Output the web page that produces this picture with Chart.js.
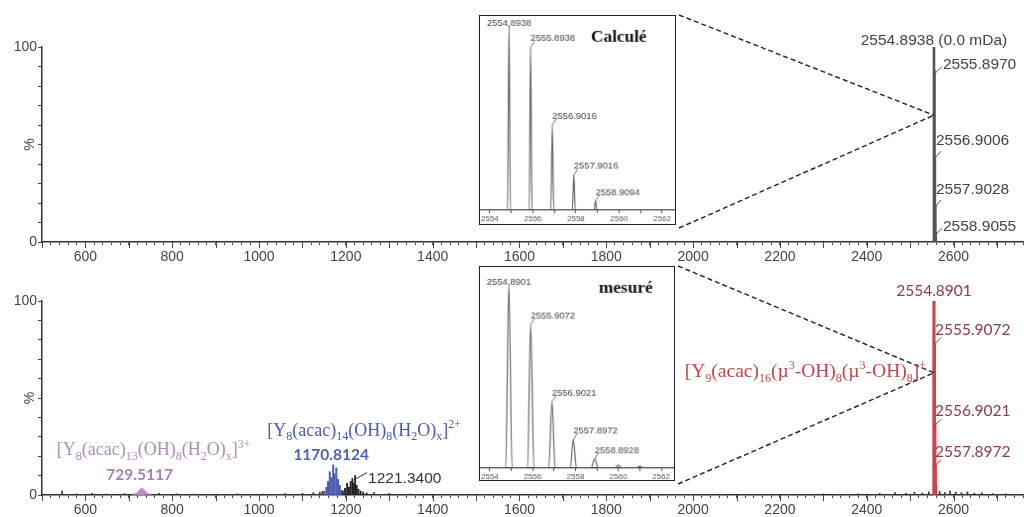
<!DOCTYPE html>
<html>
<head>
<meta charset="utf-8">
<script src="https://cdn.jsdelivr.net/npm/chart.js@4.4.1/dist/chart.umd.min.js"></script>
<style>
body { margin: 0; background: #fff; width: 1027px; height: 517px; overflow: hidden; position: relative; }
canvas { position: absolute; }
.inset { background: #fff; border: 1.5px solid #222; }
</style>
</head>
<body>
<canvas id="topChart" width="1027" height="268" style="left:0;top:0"></canvas>
<canvas id="botChart" width="1027" height="255" style="left:0;top:262px"></canvas>
<canvas id="topInset" class="inset" width="197" height="210" style="left:479px;top:15px"></canvas>
<canvas id="botInset" class="inset" width="196" height="215" style="left:479px;top:266px"></canvas>
<script>
// main axis range (m/z) and tick steps
const xMin = 500, xMax = 2760;
const xTickStep = 20;
const yTickStep = 10;

// top: calculated isotope pattern
const calcMz = [2554.8938, 2555.8970, 2556.9006, 2557.9028, 2558.9055];
const calcInt = [100, 88, 44, 19, 5];
const calcLabels = ['2554.8938 (0.0 mDa)', '2555.8970', '2556.9006', '2557.9028', '2558.9055'];

// bottom: measured spectrum
const measMz = [2554.8901, 2555.9072, 2556.9021, 2557.8972, 2558.8928];
const measInt = [100, 78, 36, 15, 5];
const measLabels = ['2554.8901', '2555.9072', '2556.9021', '2557.8972'];

// [Y8(acac)13(OH)8(H2O)x]3+ cluster
const c3Mz = [712, 716, 720, 724, 727, 729.5117, 732, 735, 739, 743, 748];
const c3Int = [0.5, 1, 1.6, 2.3, 3, 3.6, 3.2, 2.5, 1.7, 1, 0.5];
// [Y8(acac)14(OH)8(H2O)x]2+ cluster
const c2Mz = [1150, 1155, 1159, 1163, 1167, 1170.8124, 1174, 1178, 1182, 1186, 1190];
const c2Int = [2, 4, 7, 12, 9, 15.5, 11, 14, 8, 5, 2.5];
// unassigned cluster near 1221
const otherMz = [1193, 1198, 1203, 1207, 1211, 1215, 1218, 1221.34, 1225, 1229, 1234, 1240, 1248];
const otherInt = [2, 3.5, 6, 4, 7, 8.5, 6, 10, 5, 3, 2, 1.5, 1];
// baseline noise
const noiseMz = [546, 580, 615, 650, 690, 770, 810, 850, 905, 950, 1010, 1060, 1100, 1125, 1140, 1146, 1265, 1300, 1350, 1410, 1480, 1560, 1650, 1760, 1900, 2050, 2180, 2300, 2380, 2430, 2465, 2490, 2510, 2528, 2543, 2568, 2580, 2592, 2605, 2618, 2632, 2648, 2665, 2690, 2720];
const noiseInt = [2.0, 0.6, 0.8, 0.5, 0.7, 0.9, 0.6, 0.5, 0.4, 0.6, 0.5, 0.7, 0.9, 1.2, 1.5, 1.8, 1.2, 0.8, 0.5, 0.4, 0.4, 0.3, 0.3, 0.4, 0.3, 0.3, 0.4, 0.5, 0.6, 0.8, 1.2, 0.9, 1.4, 1.0, 1.6, 1.8, 1.3, 2.0, 1.5, 1.2, 1.6, 0.9, 1.1, 0.7, 0.6];

// insets (zoom on isotope pattern)
const insetMin = 2553.55, insetMax = 2562.6;
const insetTicks = [2554, 2555, 2556, 2557, 2558, 2559, 2560, 2561, 2562];
const calcProfMz = [2553.55, 2554.82, 2554.8938, 2554.96, 2555.83, 2555.8938, 2555.96, 2556.83, 2556.9016, 2556.97, 2557.83, 2557.9016, 2557.97, 2558.84, 2558.9094, 2558.98, 2562.6];
const calcProfInt = [0, 0, 100, 0, 0, 88, 0, 0, 46, 0, 0, 19, 0, 0, 5, 0, 0];
const calcInsetLabels = ['2554.8938', '2555.8938', '2556.9016', '2557.9016', '2558.9094'];
const measProfMz = [2553.55, 2554.74, 2554.8901, 2555.04, 2555.76, 2555.9072, 2556.06, 2556.75, 2556.9021, 2557.05, 2557.75, 2557.8972, 2558.05, 2558.72, 2558.8928, 2559.07, 2559.8, 2560.0, 2560.2, 2560.8, 2561.0, 2561.2, 2562.6];
const measProfInt = [0, 0, 100, 0, 0, 78, 0, 0, 36, 0, 0, 15.5, 0, 0, 5, 0, 0, 1.5, 0, 0, 1, 0, 0];
const measInsetLabels = ['2554.8901', '2555.9072', '2556.9021', '2557.8972', '2558.8928'];

// layout bits (page coords of inset boxes, apex height of zoom lines in %)
const topBox = { right: 679, top: 15, bottom: 228 };
const botBox = { right: 678, top: 266, bottom: 484 };
const topCanvasY = 0, botCanvasY = 262;
const apexTop = 65, apexBot = 63;

const SANS = '"Liberation Sans", Arial, sans-serif';
const SERIF = '"Liberation Serif", "Times New Roman", serif';
const ROUND = 'Lato, "Open Sans", sans-serif';

function pts(xs, ys) {
    return xs.map((m, i) => ({ x: m, y: ys[i] }));
}

function line(ctx, x1, y1, x2, y2) {
    ctx.beginPath();
    ctx.moveTo(x1, y1);
    ctx.lineTo(x2, y2);
    ctx.stroke();
}

// text with sub (1) / superscript (2) parts
function drawRich(ctx, parts, x, y, size, family, color, align) {
    const small = Math.round(size * 0.64);
    const seg = parts.map(([t, m]) => ({ t: t, m: m, f: (m ? small : size) + 'px ' + family }));
    let w = 0;
    seg.forEach(s => { ctx.font = s.f; s.w = ctx.measureText(s.t).width; w += s.w; });
    let cx = align === 'center' ? x - w / 2 : (align === 'right' ? x - w : x);
    ctx.fillStyle = color;
    ctx.textAlign = 'left';
    ctx.textBaseline = 'alphabetic';
    seg.forEach(s => {
        ctx.font = s.f;
        const dy = s.m === 1 ? size * 0.25 : (s.m === 2 ? -size * 0.42 : 0);
        ctx.fillText(s.t, cx, y + dy);
        cx += s.w;
    });
}

function axisExtras(chart) {
    const { ctx, scales: { x, y }, chartArea } = chart;
    ctx.save();
    ctx.strokeStyle = '#444';
    ctx.lineWidth = 1;
    for (let v = xMin; v <= xMax; v += 100) {
        const px = Math.round(x.getPixelForValue(v)) + 0.5;
        line(ctx, px, chartArea.bottom, px, chartArea.bottom + 6);
    }
    ctx.font = '14px ' + SANS;
    ctx.fillStyle = '#444';
    ctx.translate(30, y.getPixelForValue(50));
    ctx.rotate(-Math.PI / 2);
    ctx.textAlign = 'center';
    ctx.textBaseline = 'middle';
    ctx.fillText('%', 0, 0);
    ctx.restore();
}

function zoomLines(ctx, box, offY, ax, ay) {
    ctx.save();
    ctx.setLineDash([5, 3]);
    ctx.strokeStyle = '#222';
    ctx.lineWidth = 1.4;
    line(ctx, box.right, box.top - offY, ax, ay);
    line(ctx, box.right, box.bottom - offY, ax, ay);
    ctx.restore();
}

// label offsets: 'side' = text right of the line, 'over' = text above the leader
const topLabelStyle = ['', 'side', 'over', 'over', 'side'];

const topDeco = {
    id: 'topDeco',
    afterDraw(chart) {
        const { ctx, scales: { x, y } } = chart;
        axisExtras(chart);
        const xp = x.getPixelForValue(calcMz[0]);
        zoomLines(ctx, topBox, topCanvasY, xp, y.getPixelForValue(apexTop));
        ctx.save();
        ctx.font = '15.5px ' + SANS;
        ctx.fillStyle = '#444';
        ctx.strokeStyle = '#555';
        ctx.lineWidth = 1;
        ctx.textAlign = 'center';
        ctx.fillText(calcLabels[0], xp, y.getPixelForValue(calcInt[0]) - 2);
        ctx.textAlign = 'left';
        for (let i = 1; i < calcLabels.length; i++) {
            const yp = y.getPixelForValue(calcInt[i]);
            if (topLabelStyle[i] === 'side') {
                line(ctx, xp + 1, yp + 3, xp + 8, yp - 4);
                ctx.fillText(calcLabels[i], xp + 9, yp - 1);
            } else {
                line(ctx, xp + 1, yp + 2, xp + 7, yp - 5);
                ctx.fillText(calcLabels[i], xp + 2, yp - 11);
            }
        }
        ctx.restore();
    }
};

const botDeco = {
    id: 'botDeco',
    afterDraw(chart) {
        const { ctx, scales: { x, y } } = chart;
        axisExtras(chart);
        const xp = x.getPixelForValue(measMz[0]);
        const ax = xp, ay = y.getPixelForValue(apexBot);
        zoomLines(ctx, botBox, botCanvasY, ax, ay);
        ctx.save();
        // isotope labels
        ctx.font = '15.5px ' + ROUND;
        ctx.fillStyle = '#8e3b46';
        ctx.strokeStyle = '#8e3b46';
        ctx.lineWidth = 1;
        ctx.textAlign = 'center';
        ctx.fillText(measLabels[0], xp, y.getPixelForValue(measInt[0]) - 5);
        ctx.textAlign = 'left';
        for (let i = 1; i < measLabels.length; i++) {
            const yp = y.getPixelForValue(measInt[i]);
            line(ctx, xp + 1, yp, xp + 7, yp - 6);
            ctx.fillText(measLabels[i], xp + 1, yp - 9);
        }
        // assignment of the main ion
        drawRich(ctx, [['[Y', 0], ['9', 1], ['(acac)', 0], ['16', 1], ['(\u00b5', 0], ['3', 2], ['-OH)', 0], ['8', 1],
            ['(\u00b5', 0], ['3', 2], ['-OH)', 0], ['8', 1], [']', 0], ['+', 2]],
            ax - 8, ay + 4, 19.5, SERIF, '#c0474f', 'right');

        // 3+ cluster
        const x3 = x.getPixelForValue(c3Mz[5]);
        drawRich(ctx, [['[Y', 0], ['8', 1], ['(acac)', 0], ['13', 1], ['(OH)', 0], ['8', 1], ['(H', 0], ['2', 1],
            ['O)', 0], ['x', 1], [']', 0], ['3+', 2]],
            x3 + 12, y.getPixelForValue(20.5), 18, SERIF, '#b08cba', 'center');
        ctx.font = 'bold 15.5px ' + ROUND;
        ctx.fillStyle = '#a683b6';
        ctx.textAlign = 'center';
        ctx.fillText('729.5117', x3 - 2, y.getPixelForValue(7.5));

        // 2+ cluster
        const x2 = x.getPixelForValue(c2Mz[5]);
        drawRich(ctx, [['[Y', 0], ['8', 1], ['(acac)', 0], ['14', 1], ['(OH)', 0], ['8', 1], ['(H', 0], ['2', 1],
            ['O)', 0], ['x', 1], [']', 0], ['2+', 2]],
            x2 + 31, y.getPixelForValue(30.5), 18, SERIF, '#4c5cb0', 'center');
        ctx.font = 'bold 15.5px ' + ROUND;
        ctx.fillStyle = '#5262b2';
        ctx.textAlign = 'center';
        ctx.fillText('1170.8124', x2 - 2, y.getPixelForValue(18));

        // 1221 label
        const x1 = x.getPixelForValue(otherMz[7]);
        const y1 = y.getPixelForValue(otherInt[7]);
        ctx.strokeStyle = '#333';
        line(ctx, x1 + 1, y1 + 3, x1 + 12, y1 - 3);
        ctx.font = '15.5px ' + SANS;
        ctx.fillStyle = '#333';
        ctx.textAlign = 'left';
        ctx.fillText('1221.3400', x1 + 13, y1 + 7);
        ctx.restore();
    }
};

function mainOptions(padTop, xAxisH) {
    return {
        responsive: false,
        animation: false,
        layout: { padding: { top: padTop, right: 1, left: 0, bottom: 0 } },
        plugins: { legend: { display: false }, tooltip: { enabled: false } },
        scales: {
            x: {
                type: 'linear', min: xMin, max: xMax, offset: false,
                grid: { offset: false, drawOnChartArea: false, tickLength: 3, color: '#444' },
                border: { color: '#333', width: 1.5 },
                ticks: {
                    stepSize: xTickStep, autoSkip: false, maxRotation: 0, padding: 4, color: '#444',
                    font: { family: SANS, size: 14 },
                    callback: v => (v % 200 === 0 && v > xMin) ? String(v) : ''
                },
                afterFit: s => { s.height = xAxisH; }
            },
            y: {
                min: 0, max: 100,
                grid: { drawOnChartArea: false, tickLength: 4, color: '#444' },
                border: { color: '#333', width: 1.5 },
                ticks: {
                    stepSize: yTickStep, autoSkip: false, padding: 1, color: '#444',
                    font: { family: SANS, size: 14 },
                    callback: v => (v === 0 || v === 100) ? String(v) : ''
                },
                afterFit: s => { s.width = 42; }
            }
        }
    };
}

function sticks(xs, ys, color, thick) {
    return { data: pts(xs, ys), backgroundColor: color, barThickness: thick, grouped: false, borderWidth: 0 };
}

new Chart(document.getElementById('topChart'), {
    type: 'bar',
    data: { datasets: [sticks(calcMz, calcInt, '#555', 2)] },
    options: mainOptions(47, 26),
    plugins: [topDeco]
});

new Chart(document.getElementById('botChart'), {
    type: 'bar',
    data: {
        datasets: [
            sticks(noiseMz, noiseInt, '#333', 1),
            sticks(otherMz, otherInt, '#222', 1.2),
            sticks(c3Mz, c3Int, '#b48fbd', 1.2),
            sticks(c2Mz, c2Int, '#4c5cb0', 1.3),
            sticks(measMz, measInt, '#d2414f', 2.5)
        ]
    },
    options: mainOptions(39, 22),
    plugins: [botDeco]
});

// insets
const insetInfo = {
    topInset: { labels: calcInsetLabels, mz: [calcProfMz[2], calcProfMz[5], calcProfMz[8], calcProfMz[11], calcProfMz[14]],
                h: [calcProfInt[2], calcProfInt[5], calcProfInt[8], calcProfInt[11], calcProfInt[14]], title: 'Calcul\u00e9', tx: 112 },
    botInset: { labels: measInsetLabels, mz: [measProfMz[2], measProfMz[5], measProfMz[8], measProfMz[11], measProfMz[14]],
                h: [measProfInt[2], measProfInt[5], measProfInt[8], measProfInt[11], measProfInt[14]], title: 'mesur\u00e9', tx: 120 }
};

const insetDeco = {
    id: 'insetDeco',
    afterDraw(chart) {
        const info = insetInfo[chart.canvas.id];
        const { ctx, scales: { x, y } } = chart;
        ctx.save();
        ctx.font = 'bold 17.5px ' + SERIF;
        ctx.fillStyle = '#111';
        ctx.textAlign = 'left';
        ctx.fillText(info.title, info.tx, 26);
        ctx.font = '9.5px ' + SANS;
        ctx.fillStyle = '#444';
        ctx.strokeStyle = '#555';
        ctx.lineWidth = 0.8;
        for (let i = 0; i < info.labels.length; i++) {
            const xp = x.getPixelForValue(info.mz[i]);
            const yp = y.getPixelForValue(info.h[i]);
            if (i === 0) {
                ctx.textAlign = 'center';
                ctx.fillText(info.labels[i], xp, yp + 1);
            } else {
                ctx.textAlign = 'left';
                line(ctx, xp, yp, xp + 4, yp - 6);
                ctx.fillText(info.labels[i], xp, yp - 6);
            }
        }
        ctx.restore();
    }
};

function insetChart(id, profMz, profInt, padTop, xH) {
    return new Chart(document.getElementById(id), {
        type: 'line',
        data: {
            datasets: [{
                data: pts(profMz, profInt), borderColor: '#666', borderWidth: 1.2,
                pointRadius: 0, cubicInterpolationMode: 'monotone', fill: false
            }]
        },
        options: {
            responsive: false,
            animation: false,
            layout: { padding: { top: padTop, left: 0, right: 0, bottom: 0 } },
            plugins: { legend: { display: false }, tooltip: { enabled: false } },
            scales: {
                x: {
                    type: 'linear', min: insetMin, max: insetMax,
                    afterBuildTicks: s => { s.ticks = insetTicks.map(v => ({ value: v })); },
                    grid: { drawOnChartArea: false, tickLength: 3, color: '#555' },
                    border: { color: '#333', width: 1.2 },
                    ticks: {
                        autoSkip: false, maxRotation: 0, padding: 1, color: '#555',
                        font: { family: SANS, size: 8 },
                        callback: v => (v % 2 === 0) ? String(v) : ''
                    },
                    afterFit: s => { s.height = xH; }
                },
                y: { display: false, min: 0, max: 100 }
            }
        },
        plugins: [insetDeco]
    });
}

insetChart('topInset', calcProfMz, calcProfInt, 9, 14);
insetChart('botInset', measProfMz, measProfInt, 17, 12);
</script>
</body>
</html>
